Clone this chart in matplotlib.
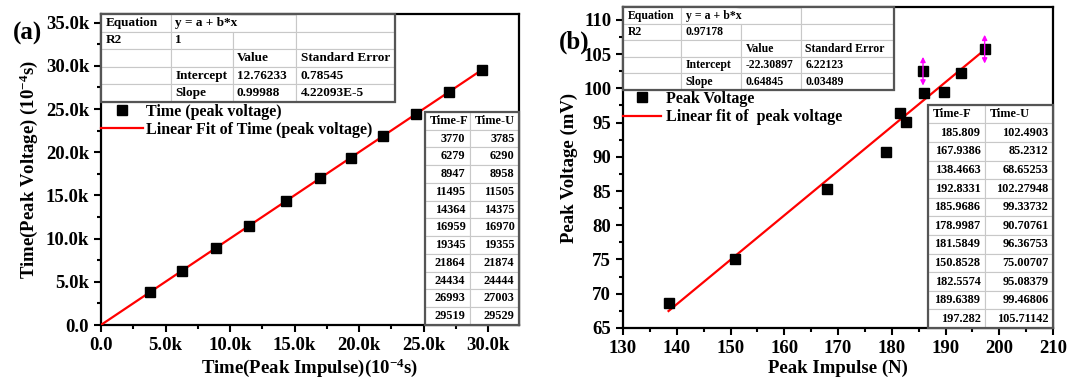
import matplotlib
matplotlib.use("Agg")
import matplotlib.pyplot as plt
import numpy as np
from matplotlib.patches import Rectangle
from matplotlib.ticker import MultipleLocator, FuncFormatter

plt.rcParams['font.family'] = 'Liberation Serif'
plt.rcParams['font.weight'] = 'bold'
plt.rcParams['axes.labelweight'] = 'bold'
plt.rcParams['mathtext.fontset'] = 'custom'
plt.rcParams['mathtext.rm'] = 'Liberation Serif:bold'
plt.rcParams['mathtext.it'] = 'Liberation Serif:bold'
plt.rcParams['mathtext.bf'] = 'Liberation Serif:bold'
plt.rcParams['mathtext.default'] = 'rm'

# (a) arrival times, impulse vs voltage
time_f = [3770, 6279, 8947, 11495, 14364, 16959, 19345, 21864, 24434, 26993, 29519]
time_u = [3785, 6290, 8958, 11505, 14375, 16970, 19355, 21874, 24444, 27003, 29529]
intercept_a, slope_a = 12.76233, 0.99988
r2_a = '1'
err_a = ['0.78545', '4.22093E-5']

# (b) peak impulse vs peak voltage
impulse_n = [185.809, 167.9386, 138.4663, 192.8331, 185.9686, 178.9987,
             181.5849, 150.8528, 182.5574, 189.6389, 197.282]
voltage_mv = [102.4903, 85.2312, 68.65253, 102.27948, 99.33732, 90.70761,
              96.36753, 75.00707, 95.08379, 99.46806, 105.71142]
intercept_b, slope_b = -22.30897, 0.64845
r2_b = '0.97178'
err_b = ['6.22123', '0.03489']
flagged_b = [0, 10]   # points marked with magenta arrows


def stats_rows(r2, a, b, err):
    return [['Equation', 'y = a + b*x', '', ''],
            ['R2', r2, '', ''],
            ['', '', 'Value', 'Standard Error'],
            ['', 'Intercept', str(a), err[0]],
            ['', 'Slope', str(b), err[1]]]


def add_table(ax, rows, bbox, col_px, fontsize, col_labels=None, loc='left'):
    widths = [w / sum(col_px) for w in col_px]
    kw = dict(colLabels=col_labels, colLoc='left') if col_labels else {}
    tbl = ax.table(cellText=rows, bbox=bbox, colWidths=widths, cellLoc=loc, **kw)
    tbl.auto_set_font_size(False)
    tbl.set_fontsize(fontsize)
    tbl.set_zorder(6)
    for (r, c), cell in tbl.get_celld().items():
        cell.set_edgecolor('#c8c8c8')
        cell.set_linewidth(0.8)
        cell.PAD = 4.5 / col_px[c]
        cell.get_text().set_fontweight('bold')
    ax.add_patch(Rectangle(bbox[:2], bbox[2], bbox[3], transform=ax.transAxes,
                           fill=False, ec='#555555', lw=1.6, zorder=7, clip_on=False))
    return tbl


def merge_equation_row(tbl):
    # the equation text runs across the two middle cells of the first row
    tbl[0, 1].visible_edges = 'BTL'
    tbl[0, 2].visible_edges = 'BTR'
    tbl[0, 2].set_fill(False)


def style_axes(ax):
    for s in ax.spines.values():
        s.set_linewidth(1.6)
    ax.tick_params(which='both', direction='out', width=1.5, labelsize=13.5,
                   top=False, right=False)
    ax.tick_params(which='major', length=5)
    ax.tick_params(which='minor', length=3)


fig = plt.figure(figsize=(10.83, 3.78), dpi=100)
ax1 = fig.add_axes([0.0933, 0.1402, 0.3859, 0.8228])
ax2 = fig.add_axes([0.5753, 0.1323, 0.3970, 0.8480])

# ---- panel (a)
xa = np.array([0, max(time_f)])
ax1.plot(time_f, time_u, 's', color='black', ms=6.5, zorder=4,
         label='Time (peak voltage)')
ax1.plot(xa, intercept_a + slope_a * xa, color='red', lw=1.6, zorder=3,
         label='Linear Fit of Time (peak voltage)')
ax1.set_xlim(0, 32400)
ax1.set_ylim(0, 36000)
ax1.xaxis.set_major_locator(MultipleLocator(5000))
ax1.xaxis.set_minor_locator(MultipleLocator(2500))
ax1.yaxis.set_major_locator(MultipleLocator(5000))
ax1.yaxis.set_minor_locator(MultipleLocator(2500))
kfmt = FuncFormatter(lambda v, p: '0.0' if v == 0 else f'{v / 1000:.1f}k')
ax1.xaxis.set_major_formatter(kfmt)
ax1.yaxis.set_major_formatter(kfmt)
style_axes(ax1)
ax1.set_xlabel(r'Time(Peak Impulse)(10$^{-4}$s)', fontsize=13.5, labelpad=2)
ax1.set_ylabel(r'Time(Peak Voltage) (10$^{-4}$s)', fontsize=13.5, labelpad=4)
ax1.legend(loc='upper left', bbox_to_anchor=(0, 0.712), frameon=False,
           fontsize=11.5, handlelength=2.6, handletextpad=0.2,
           labelspacing=0.15, borderpad=0, borderaxespad=0)
t = add_table(ax1, stats_rows(r2_a, intercept_a, slope_a, err_a),
              [0, 0.717, 0.703, 0.283], [70, 62, 64, 99], 9.5)
merge_equation_row(t)
add_table(ax1, [[str(f), str(u)] for f, u in zip(time_f, time_u)],
          [0.775, 0, 0.225, 0.685], [45, 49], 8.8,
          col_labels=['Time-F', 'Time-U'], loc='right')

# ---- panel (b)
xb = np.array([min(impulse_n), max(impulse_n)])
ax2.plot(impulse_n, voltage_mv, 's', color='black', ms=6.5, zorder=4,
         label='Peak Voltage')
ax2.plot(xb, intercept_b + slope_b * xb, color='red', lw=1.6, zorder=3,
         label='Linear fit of  peak voltage')
for i in flagged_b:
    ax2.annotate('', xy=(impulse_n[i], voltage_mv[i] + 2.1),
                 xytext=(impulse_n[i], voltage_mv[i] - 2.1),
                 arrowprops=dict(arrowstyle='<|-|>,head_length=0.3,head_width=0.15',
                                 color='#ff00ff', lw=1.0, shrinkA=0, shrinkB=0),
                 zorder=5)
ax2.set_xlim(130, 210)
ax2.set_ylim(65, 111.8)
ax2.xaxis.set_major_locator(MultipleLocator(10))
ax2.xaxis.set_minor_locator(MultipleLocator(5))
ax2.yaxis.set_major_locator(MultipleLocator(5))
ax2.yaxis.set_minor_locator(MultipleLocator(2.5))
style_axes(ax2)
ax2.set_xlabel('Peak Impulse (N)', fontsize=13.5, labelpad=2)
ax2.set_ylabel('Peak Voltage (mV)', fontsize=13.5, labelpad=4)
ax2.legend(loc='upper left', bbox_to_anchor=(0, 0.74), frameon=False,
           fontsize=11.5, handlelength=2.4, handletextpad=0.3,
           labelspacing=0.15, borderpad=0, borderaxespad=0)
t = add_table(ax2, stats_rows(r2_b, intercept_b, slope_b, err_b),
              [0, 0.743, 0.63, 0.257], [58, 60, 60, 93], 8.5)
merge_equation_row(t)
add_table(ax2, [[str(f), str(u)] for f, u in zip(impulse_n, voltage_mv)],
          [0.709, 0, 0.291, 0.696], [57, 68], 8.8,
          col_labels=['Time-F', 'Time-U'], loc='right')

fig.text(13 / 1083, 1 - 33 / 378, '(a)', fontsize=18, ha='left', va='center')
fig.text(559 / 1083, 1 - 42 / 378, '(b)', fontsize=18, ha='left', va='center')

fig.savefig('out.png', dpi=100)
